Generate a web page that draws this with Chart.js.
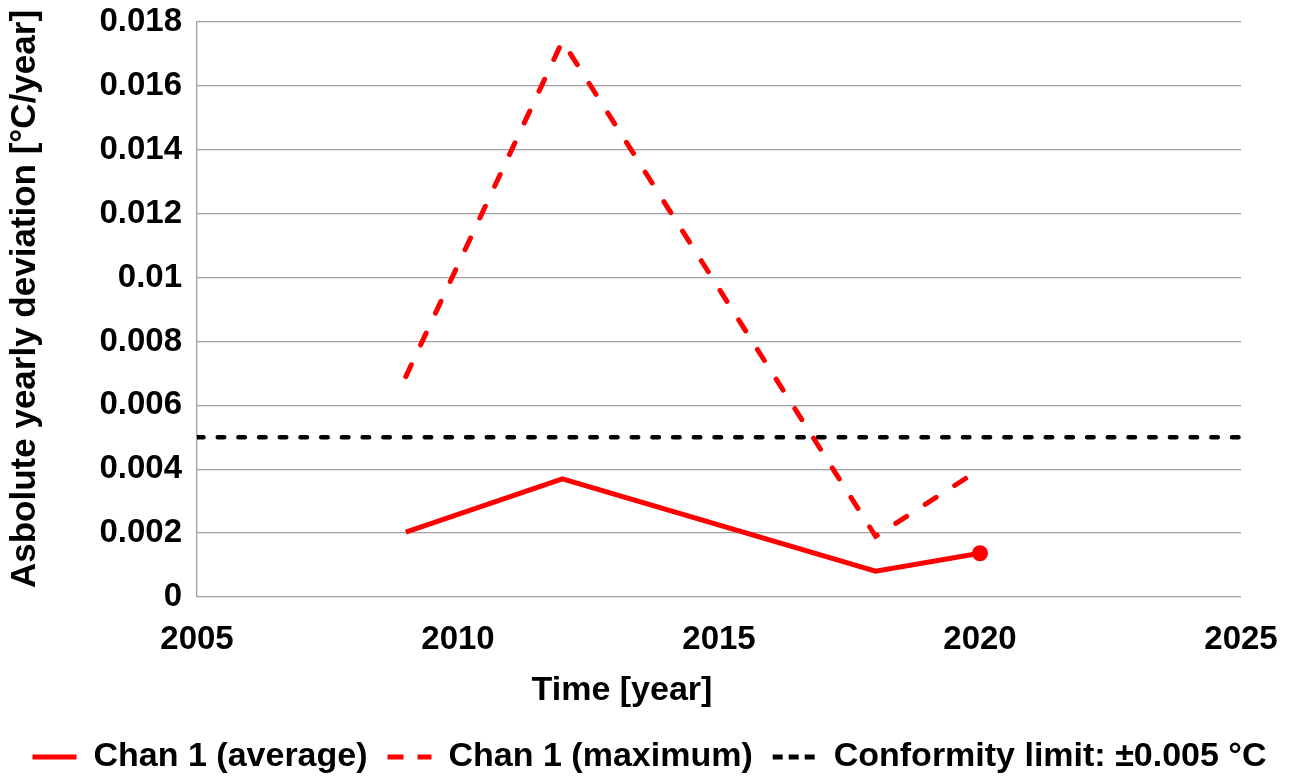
<!DOCTYPE html>
<html>
<head>
<meta charset="utf-8">
<script src="https://cdn.jsdelivr.net/npm/chart.js@4.4.1/dist/chart.umd.min.js"></script>
<style>
  html, body { margin: 0; padding: 0; background: #ffffff; }
  #wrap { width: 1295px; height: 776px; }
</style>
</head>
<body>
<div id="wrap"><canvas id="chart" width="1295" height="776"></canvas></div>
<script>
// Measurement years and yearly deviations for channel 1
const years = [2009, 2012, 2018, 2020];
const chanAverage = [0.00203, 0.0037, 0.00081, 0.00137];
const chanMaximum = [0.0069, 0.0174, 0.0019, 0.0040];

// Conformity limit drawn across the full time range
const limitYears = [2005, 2025];
const limitValue = [0.005, 0.005];

// Axis tick labels
const xTickLabels = ['2005', '2010', '2015', '2020', '2025'];
const yTickLabels = ['0', '0.002', '0.004', '0.006', '0.008', '0.01', '0.012', '0.014', '0.016', '0.018'];

const seriesNames = ['Chan 1 (average)', 'Chan 1 (maximum)', 'Conformity limit: \u00b10.005 \u00b0C'];
const xTitle = 'Time [year]';
const yTitle = 'Asbolute yearly deviation [\u00b0C/year]';

const toPoints = (xs, ys) => xs.map((x, i) => ({ x: x, y: ys[i] }));

const FONT = '"Liberation Sans", Arial, Helvetica, sans-serif';
const GRID = '#a0a0a0';

// Axis titles, placed like the original worksheet chart (x title sits left of the plot centre)
const axisTitles = {
  id: 'axisTitles',
  afterDraw(chart) {
    const { ctx, chartArea } = chart;
    ctx.save();
    ctx.fillStyle = '#000000';
    ctx.textAlign = 'center';
    ctx.textBaseline = 'middle';
    ctx.font = 'bold 34px ' + FONT;
    ctx.fillText(xTitle, chartArea.left + 425, chartArea.bottom + 94);
    ctx.translate(25, chartArea.top + 277);
    ctx.rotate(-Math.PI / 2);
    ctx.font = 'bold 35px ' + FONT;
    ctx.fillText(yTitle, 0, 0);
    ctx.restore();
  }
};

new Chart(document.getElementById('chart'), {
  type: 'line',
  data: {
    datasets: [
      {
        label: seriesNames[0],
        data: toPoints(years, chanAverage),
        borderColor: '#ff0000',
        backgroundColor: '#ff0000',
        borderWidth: 5,
        pointRadius: [0, 0, 0, 8],
        pointHoverRadius: 0,
        pointBackgroundColor: '#ff0000',
        pointBorderWidth: 0,
        tension: 0,
        fill: false
      },
      {
        label: seriesNames[1],
        data: toPoints(years, chanMaximum),
        borderColor: '#ff0000',
        backgroundColor: '#ff0000',
        borderWidth: 5,
        borderDash: [13, 22],
        borderCapStyle: 'round',
        pointRadius: 0,
        tension: 0,
        fill: false
      },
      {
        label: seriesNames[2],
        data: toPoints(limitYears, limitValue),
        borderColor: '#000000',
        backgroundColor: '#000000',
        borderWidth: 4.5,
        borderDash: [6.5, 14.2],
        borderCapStyle: 'round',
        pointRadius: 0,
        tension: 0,
        fill: false
      }
    ]
  },
  options: {
    responsive: false,
    animation: false,
    events: [],
    layout: { padding: { left: 4, right: 0, top: 0, bottom: -8 } },
    plugins: {
      tooltip: { enabled: false },
      legend: {
        position: 'bottom',
        labels: {
          font: { family: FONT, size: 34, weight: 'bold' },
          color: '#000000',
          usePointStyle: true,
          pointStyleWidth: 44,
          boxHeight: 34,
          padding: 20,
          generateLabels(chart) {
            const dashes = [[], [16, 14], [10, 6]];
            return Chart.defaults.plugins.legend.labels.generateLabels(chart).map(item => {
              const ds = chart.data.datasets[item.datasetIndex];
              item.pointStyle = 'line';
              item.fillStyle = ds.borderColor;
              item.strokeStyle = ds.borderColor;
              item.lineWidth = 5;
              item.lineDash = dashes[item.datasetIndex];
              item.lineCap = 'butt';
              return item;
            });
          }
        }
      }
    },
    scales: {
      x: {
        type: 'linear',
        min: 2005,
        max: 2025,
        afterFit(scale) {
          scale.height = 123;
          scale.paddingRight = 54;
        },
        afterBuildTicks(scale) {
          scale.ticks = xTickLabels.map(v => ({ value: Number(v) }));
        },
        ticks: {
          font: { family: FONT, size: 33, weight: 'bold' },
          color: '#000000',
          padding: 23,
          maxRotation: 0,
          autoSkip: false,
          callback: (value, index) => xTickLabels[index]
        },
        grid: { display: false, drawTicks: false },
        border: { display: false },
        title: { display: false }
      },
      y: {
        min: 0,
        max: 0.018,
        afterFit(scale) {
          scale.width = 193;
          scale.paddingTop = 22;
        },
        afterBuildTicks(scale) {
          scale.ticks = yTickLabels.map(v => ({ value: Number(v) }));
        },
        ticks: {
          font: { family: FONT, size: 33, weight: 'bold' },
          color: '#000000',
          padding: 15,
          autoSkip: false,
          callback: (value, index) => yTickLabels[index]
        },
        grid: { color: GRID, lineWidth: 1.3, drawTicks: false },
        border: { display: true, color: GRID, width: 1.3 },
        title: { display: false }
      }
    }
  },
  plugins: [axisTitles]
});
</script>
</body>
</html>
